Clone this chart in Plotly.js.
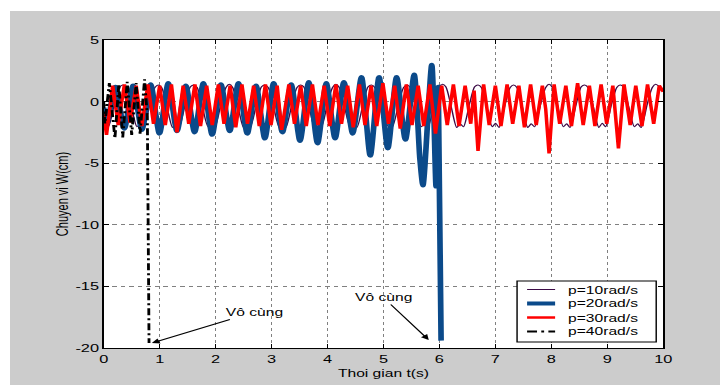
<!DOCTYPE html>
<html>
<head>
<meta charset="utf-8">
<script src="https://cdn.plot.ly/plotly-3.0.1.min.js"></script>
<style>
  html, body { margin: 0; padding: 0; background: #ffffff; overflow: hidden; }
  #chart { position: absolute; left: 10px; top: 11px; width: 500px; height: 374px;
           transform: scaleX(1.42); transform-origin: 0 0; }
</style>
</head>
<body>
<div id="chart"></div>
<script>
// ---------- data ----------
const seriesNames = ['p=10rad/s', 'p=20rad/s', 'p=30rad/s', 'p=40rad/s'];

// p = 10 rad/s
const tP10 = [0.00,0.08,0.19,0.28,0.34,0.40,0.49,
  0.595,0.655,0.715,0.825,0.915,0.975,1.035,1.125,
  1.23,1.29,1.35,1.46,1.55,1.61,1.67,1.76,
  1.865,1.925,1.985,2.095,2.185,2.245,2.305,2.395,
  2.50,2.56,2.62,2.73,2.82,2.88,2.94,3.03,
  3.135,3.195,3.255,3.365,3.455,3.515,3.575,3.665,
  3.77,3.83,3.89,4.00,4.09,4.15,4.21,4.30,
  4.405,4.465,4.525,4.635,4.725,4.785,4.845,4.935,
  5.04,5.10,5.16,5.27,5.36,5.42,5.48,5.57,
  5.675,5.735,5.795,5.905,5.995,6.055,6.115,6.205,
  6.31,6.37,6.43,6.54,6.63,6.69,6.75,6.84,
  6.945,7.005,7.065,7.175,7.265,7.325,7.385,7.475,
  7.58,7.64,7.70,7.81,7.90,7.96,8.02,8.11,
  8.215,8.275,8.335,8.445,8.535,8.595,8.655,8.745,
  8.85,8.91,8.97,9.08,9.17,9.23,9.29,9.38,
  9.485,9.545,9.605,9.715,9.805,9.865,9.925,10.0];
const wP10 = [-1.7,-2.05,-0.2,1.15,1.35,1.15,-0.3,
  -2.05,-1.8,-2.1,-0.2,1.15,1.35,1.15,-0.3,
  -2.1,-1.75,-2.05,-0.15,1.2,1.35,1.15,-0.35,
  -2.05,-1.8,-2.1,-0.2,1.15,1.4,1.15,-0.3,
  -2.1,-1.8,-2.05,-0.2,1.2,1.35,1.15,-0.3,
  -2.05,-1.75,-2.1,-0.2,1.15,1.35,1.2,-0.3,
  -2.1,-1.8,-2.05,-0.15,1.15,1.4,1.15,-0.35,
  -2.05,-1.8,-2.1,-0.2,1.2,1.35,1.15,-0.3,
  -2.1,-1.75,-2.05,-0.2,1.15,1.35,1.15,-0.3,
  -2.05,-1.8,-2.1,-0.2,1.15,1.4,1.2,-0.3,
  -2.1,-1.8,-2.05,-0.15,1.2,1.35,1.15,-0.35,
  -2.05,-1.75,-2.1,-0.2,1.15,1.35,1.15,-0.3,
  -2.1,-1.8,-2.05,-0.2,1.15,1.4,1.15,-0.3,
  -2.05,-1.8,-2.1,-0.2,1.2,1.35,1.15,-0.3,
  -2.1,-1.75,-2.05,-0.15,1.15,1.35,1.2,-0.35,
  -2.05,-1.8,-2.1,-0.2,1.15,1.4,1.25,1.0];

// p = 20 rad/s
const tP20 = [0.00,0.054,0.21,0.368,0.525,0.682,0.839,0.996,1.153,1.31,1.467,1.624,1.781,1.938,
  2.095,2.252,2.409,2.566,2.723,2.88,3.037,3.194,3.351,3.508,3.665,3.822,3.979,4.136,4.293,
  4.45,4.607,4.764,4.921,5.078,5.235,5.392,5.549,5.65,5.706,5.863,5.94,5.98,6.03];
const wP20 = [-0.5,-1.8,1.2,-2.2,1.3,-2.3,1.4,-2.6,1.5,-2.4,1.3,-2.5,1.5,-2.7,
  1.4,-2.4,1.5,-2.6,1.3,-3.0,1.5,-2.5,1.4,-3.2,1.6,-3.4,1.5,-3.0,1.6,
  -2.6,2.0,-4.4,2.0,-3.8,2.0,-3.1,2.2,-4.6,-6.8,3.0,-6.9,1.2,-19.4];

// p = 30 rad/s
const tP30 = [0.00,0.05,0.16,0.26,0.37,0.47,0.58,0.68,0.79,0.89,
  1.00,1.10,1.21,1.31,1.42,1.52,1.63,1.73,1.84,1.94,
  2.05,2.15,2.26,2.36,2.47,2.57,2.68,2.78,2.89,2.99,
  3.10,3.18,3.31,3.41,3.52,3.62,3.73,3.83,3.94,4.04,
  4.15,4.25,4.36,4.46,4.57,4.67,4.78,4.88,4.99,5.09,
  5.20,5.30,5.41,5.51,5.62,5.72,5.83,5.93,6.04,6.14,
  6.25,6.35,6.46,6.56,6.62,6.69,6.79,6.89,7.00,7.10,
  7.21,7.31,7.42,7.52,7.63,7.73,7.84,7.90,7.96,8.05,
  8.15,8.26,8.36,8.47,8.57,8.68,8.78,8.89,8.99,9.10,
  9.20,9.30,9.41,9.51,9.62,9.72,9.83,9.93,10.0];
const wP30 = [-1.0,-2.7,1.3,-1.9,1.4,-1.7,1.3,-2.0,1.4,-1.8,
  1.3,-1.9,1.4,-2.5,1.3,-1.8,1.4,-2.0,1.3,-1.9,
  1.4,-1.8,1.3,-2.1,1.4,-1.8,1.3,-2.0,1.4,-1.9,
  1.3,-2.3,1.4,-1.8,1.3,-2.0,1.4,-1.9,1.3,-2.0,
  1.4,-1.8,1.3,-2.1,1.4,-1.9,1.3,-2.0,1.5,-1.8,
  1.3,-2.2,1.4,-1.9,1.3,-2.0,1.4,-2.6,1.3,-1.9,
  1.4,-2.0,1.3,-1.8,0.9,-4.0,1.4,-1.9,1.3,-2.0,
  1.4,-1.8,1.3,-2.1,1.4,-1.9,1.3,-0.6,-4.2,1.4,
  -1.8,1.3,-2.0,1.5,-1.9,1.3,-2.0,1.4,-1.8,1.3,
  -3.8,1.4,-1.9,1.3,-2.0,1.4,-1.8,1.3,0.8];

// p = 40 rad/s
const tP40 = [0.00,0.02,0.10,0.20,0.27,0.34,0.42,0.50,0.58,0.65,0.73,0.78,0.81];
const wP40 = [0.0,-1.8,1.5,-3.0,1.4,-2.9,1.6,-2.7,1.5,-2.6,1.8,-1.2,-19.6];

// axis ticks and titles
const xTickVals = [0,1,2,3,4,5,6,7,8,9,10];
const xTickText = ['0','1','2','3','4','5','6','7','8','9','10'];
const yTickVals = [-20,-15,-10,-5,0,5];
const yTickText = ['-20','-15','-10','-5','0','5'];
const xTitle = 'Thoi gian t(s)';
const yTitle = 'Chuyen vi W(cm)';
const noteText = 'Vô cùng';
const xRange = [0, 10];
const yRange = [-20, 5];

// ---------- styles ----------
const FONT = 'Arial, "Liberation Sans", sans-serif';
const styles = [
  {color: '#3c0a46', width: 1,   dash: 'solid', shape: 'spline'},
  {color: '#0b4a8a', width: 4,   dash: 'solid', shape: 'spline'},
  {color: '#ff0000', width: 2.5, dash: 'solid', shape: 'linear'},
  {color: '#000000', width: 2,   dash: '7px,3px,2px,3px', shape: 'linear'}
];
const xs = [tP10, tP20, tP30, tP40];
const ys = [wP10, wP20, wP30, wP40];

const traces = xs.map((x, i) => ({
  type: 'scatter', mode: 'lines', x: x, y: ys[i], name: seriesNames[i],
  line: {color: styles[i].color, width: styles[i].width, dash: styles[i].dash,
         shape: styles[i].shape, smoothing: 0.7},
  hoverinfo: 'skip', showlegend: false
}));

// custom legend (box, samples, labels) placed in paper coordinates
const legBox = {x0: 0.7388, x1: 0.9875, y0: 0.0195, y1: 0.2175};
const legRows = [0.1899, 0.1445, 0.0990, 0.0536];
const shapes = [{type: 'rect', xref: 'paper', yref: 'paper', x0: legBox.x0, x1: legBox.x1,
  y0: legBox.y0, y1: legBox.y1, fillcolor: '#ffffff', line: {color: '#000000', width: 1}, layer: 'above'}];
const annotations = [];
seriesNames.forEach((n, i) => {
  shapes.push({type: 'line', xref: 'paper', yref: 'paper', x0: 0.7567, x1: 0.8068,
    y0: legRows[i], y1: legRows[i],
    line: {color: styles[i].color, width: styles[i].width, dash: styles[i].dash}, layer: 'above'});
  annotations.push({xref: 'paper', yref: 'paper', x: 0.8247, y: legRows[i], xanchor: 'left',
    yanchor: 'middle', text: n, showarrow: false, font: {family: FONT, size: 11, color: '#000'}});
});
annotations.push({x: 0.86, y: -19.6, ax: 72.5, ay: -31, text: noteText, showarrow: true,
  arrowhead: 2, arrowsize: 1.1, arrowwidth: 1, arrowcolor: '#000',
  font: {family: FONT, size: 11, color: '#000'}});
annotations.push({x: 5.81, y: -19.35, ax: -32.4, ay: -43, text: noteText, showarrow: true,
  arrowhead: 2, arrowsize: 1.1, arrowwidth: 1, arrowcolor: '#000',
  font: {family: FONT, size: 11, color: '#000'}});

const axisCommon = {
  showline: true, linecolor: '#000', linewidth: 1, mirror: 'ticks',
  ticks: 'inside', ticklen: 4, tickwidth: 1, tickcolor: '#000',
  showgrid: true, gridcolor: '#808080', gridwidth: 1, griddash: 'dot',
  zeroline: false, tickfont: {family: FONT, size: 11.5, color: '#000'}
};

const layout = {
  width: 500, height: 374,
  margin: {l: 66, r: 40, t: 29, b: 37},
  paper_bgcolor: '#cccccc', plot_bgcolor: '#ffffff',
  font: {family: FONT, size: 11, color: '#000'},
  xaxis: Object.assign({}, axisCommon, {range: xRange, tickmode: 'array',
    tickvals: xTickVals, ticktext: xTickText,
    title: {text: xTitle, font: {family: FONT, size: 11, color: '#000'}, standoff: 5}}),
  yaxis: Object.assign({}, axisCommon, {range: yRange, tickmode: 'array',
    tickvals: yTickVals, ticktext: yTickText,
    title: {text: yTitle, font: {family: FONT, size: 11, color: '#000'}, standoff: 2}}),
  shapes: shapes, annotations: annotations, showlegend: false
};

Plotly.newPlot('chart', traces, layout, {staticPlot: true, displayModeBar: false, responsive: false});
</script>
</body>
</html>
